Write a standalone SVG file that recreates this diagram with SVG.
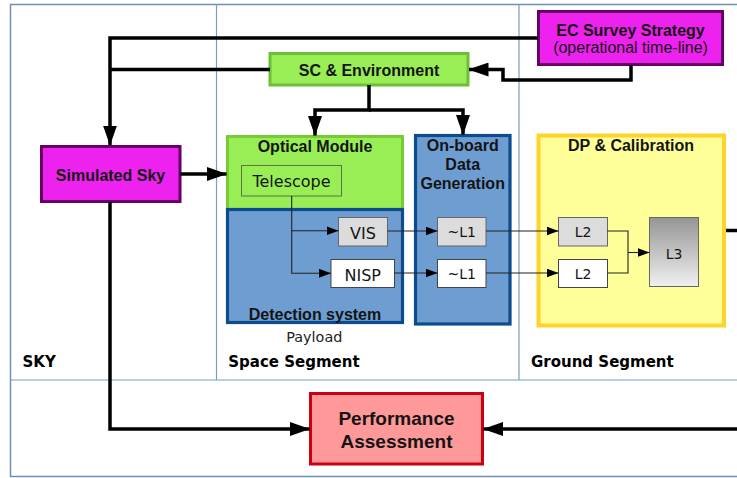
<svg xmlns="http://www.w3.org/2000/svg" width="737" height="478" viewBox="0 0 737 478">
<defs>
<linearGradient id="gL3" x1="0" y1="0" x2="0" y2="1"><stop offset="0" stop-color="#959595"/><stop offset="1" stop-color="#f0f0f0"/></linearGradient>
<marker id="ah" markerUnits="userSpaceOnUse" markerWidth="20" markerHeight="14" refX="19.5" refY="7" orient="auto"><path d="M0,0 L20,7 L0,14 z" fill="#000"/></marker>
<marker id="as" markerUnits="userSpaceOnUse" markerWidth="12" markerHeight="9" refX="12" refY="4.5" orient="auto"><path d="M0,0 L12,4.5 L0,9 z" fill="#000"/></marker>
</defs>
<style>
.t{font-family:"Liberation Sans",Arial,sans-serif;font-weight:bold;font-size:16px;text-anchor:middle;fill:#141414}
.r{font-family:"Liberation Sans",Arial,sans-serif;font-size:16px;text-anchor:middle;fill:#141414}
.d{font-family:"DejaVu Sans",sans-serif;font-size:16px;text-anchor:middle;fill:#141414}
.d14{font-family:"DejaVu Sans",sans-serif;font-size:14px;text-anchor:middle;fill:#141414}
.s{font-family:"DejaVu Sans",sans-serif;font-weight:bold;font-size:15px;fill:#000}
.thick{fill:none;stroke:#000;stroke-width:3.5}
.thin{fill:none;stroke:#222;stroke-width:1.1}
.div{stroke:#7b9cc9;stroke-width:1.2;fill:none}
.mag{fill:#ee22ee;stroke:#660066;stroke-width:3}
.grn{fill:#99ee55;stroke:#6cbf36;stroke-width:3}
.blu{fill:#6d9dd1;stroke:#0c4c8c;stroke-width:3.2}
.gry{fill:#dcdcdc;stroke:#666;stroke-width:1}
.wht{fill:#fff;stroke:#444;stroke-width:1}
</style>
<rect x="0" y="0" width="737" height="478" fill="#fff"/>
<g id="frame">
<rect x="10.5" y="4.5" width="740" height="472" fill="none" stroke="#6f8fb5" stroke-width="1.5"/>
<line class="div" x1="216.5" y1="4.5" x2="216.5" y2="380"/>
<line class="div" x1="519" y1="4.5" x2="519" y2="380"/>
<line class="div" x1="10.5" y1="380" x2="737" y2="380"/>
<text class="s" x="22.5" y="367">SKY</text>
<text class="s" x="228.3" y="367">Space Segment</text>
<text class="s" x="531" y="367">Ground Segment</text>
<text x="314.3" y="341.5" style="font-family:'DejaVu Sans',sans-serif;font-size:14.4px;text-anchor:middle;fill:#222">Payload</text>
</g>
<g id="ec-survey">
<rect class="mag" x="538.5" y="11.5" width="184" height="53"/>
<text class="t" x="630.5" y="35.5">EC Survey Strategy</text>
<text class="r" x="630.5" y="53">(operational time-line)</text>
</g>
<g id="sc-env">
<rect class="grn" x="270" y="53.5" width="198" height="31.5"/>
<text class="t" x="369" y="75.5">SC &amp; Environment</text>
</g>
<g id="sim-sky">
<rect class="mag" x="41.5" y="146.5" width="138.5" height="55"/>
<text class="t" x="110.5" y="180.5">Simulated Sky</text>
</g>
<g id="optical-module">
<rect class="grn" x="227.5" y="136.5" width="175" height="73" style="stroke:#77cc33"/>
<text class="t" x="315" y="151.5">Optical Module</text>
</g>
<g id="telescope">
<rect x="241.5" y="165.5" width="100" height="30.5" fill="#99ee55" stroke="#557744" stroke-width="1"/>
<text class="d" x="291.5" y="186.5">Telescope</text>
</g>
<g id="detection-system">
<rect class="blu" x="227.5" y="209.5" width="175" height="113"/>
<text class="t" x="315" y="319.5">Detection system</text>
</g>
<g id="vis">
<rect class="gry" x="338.5" y="217.5" width="49" height="28.5"/>
<text class="d" x="363" y="238.5">VIS</text>
</g>
<g id="nisp">
<rect class="wht" x="331" y="259.5" width="63.5" height="28"/>
<text class="d" x="362.7" y="280.5">NISP</text>
</g>
<g id="onboard">
<rect class="blu" x="415.5" y="135.5" width="94.5" height="188.5"/>
<text class="t" x="462.7" y="150.7">On-board</text>
<text class="t" x="462.7" y="170">Data</text>
<text class="t" x="462.7" y="189">Generation</text>
</g>
<g id="l1-vis">
<rect class="gry" x="437.5" y="217.5" width="48.5" height="28.5"/>
<text class="d14" x="461.7" y="237">~L1</text>
</g>
<g id="l1-nisp">
<rect class="wht" x="437.5" y="259.5" width="48.5" height="28"/>
<text class="d14" x="461.7" y="279">~L1</text>
</g>
<g id="dp-calibration">
<rect x="538.5" y="135.5" width="185.5" height="190" fill="#ffff99" stroke="#ffd42a" stroke-width="4"/>
<text class="t" x="631" y="150.7">DP &amp; Calibration</text>
</g>
<g id="l2-vis">
<rect class="gry" x="558.5" y="217.5" width="49" height="28.5"/>
<text class="d14" x="583" y="236.8">L2</text>
</g>
<g id="l2-nisp">
<rect class="wht" x="558.5" y="259.5" width="49" height="28"/>
<text class="d14" x="583" y="278.8">L2</text>
</g>
<g id="l3">
<rect x="649.5" y="217.5" width="49" height="69" fill="url(#gL3)" stroke="#666" stroke-width="1"/>
<text class="d14" x="674" y="259">L3</text>
</g>
<g id="performance">
<rect x="310.5" y="393.5" width="172" height="70.5" fill="#ff9999" stroke="#cc0011" stroke-width="3"/>
<text class="t" x="396.5" y="425" style="font-size:19px">Performance</text>
<text class="t" x="396.5" y="448.3" style="font-size:19px">Assessment</text>
</g>
<g id="connectors">
<path class="thick" d="M538,38 H110 V145" marker-end="url(#ah)"/>
<path class="thick" d="M270,69.5 H110"/>
<path class="thick" d="M631,65 V80 H503 V69.5 H469" marker-end="url(#ah)"/>
<path class="thick" d="M369,85 V110 H315 V135.5" marker-end="url(#ah)"/>
<path class="thick" d="M369,110 H463 V134.5" marker-end="url(#ah)"/>
<path class="thick" d="M180,174 H226.5" marker-end="url(#ah)"/>
<path class="thick" d="M110,202 V429 H309.5" marker-end="url(#ah)"/>
<path class="thick" d="M737,429 H483.5" marker-end="url(#ah)"/>
<path class="thick" d="M726,230.5 H737"/>
<path class="thin" d="M291.7,196 V273.3 H331" marker-end="url(#as)"/>
<path class="thin" d="M291.7,230.7 H338.5" marker-end="url(#as)"/>
<path class="thin" d="M387.5,231 H437.5" marker-end="url(#as)"/>
<path class="thin" d="M394.5,273 H437.5" marker-end="url(#as)"/>
<path class="thin" d="M486,231 H558.5" marker-end="url(#as)"/>
<path class="thin" d="M486,273 H558.5" marker-end="url(#as)"/>
<path class="thin" d="M607.5,231 H628 V273 H607.5"/>
<path class="thin" d="M628,252.5 H649.5" marker-end="url(#as)"/>
</g>
</svg>
